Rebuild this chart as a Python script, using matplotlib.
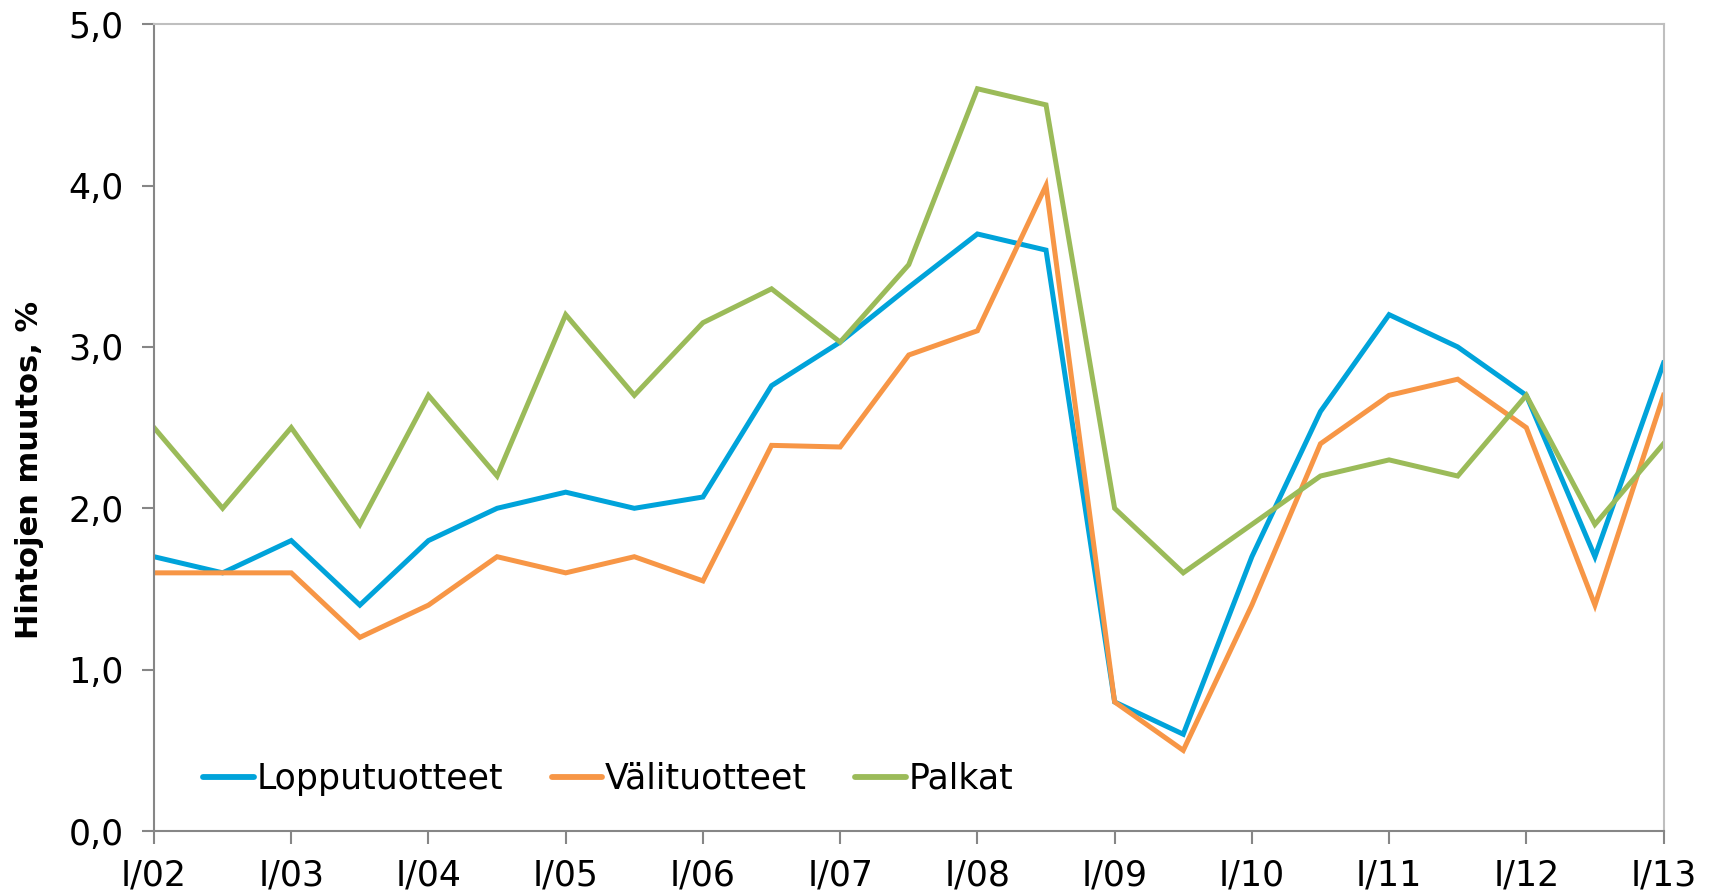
import numpy as np
import matplotlib
matplotlib.use("Agg")
import matplotlib.pyplot as plt

years = ["I/02", "I/03", "I/04", "I/05", "I/06", "I/07", "I/08",
         "I/09", "I/10", "I/11", "I/12", "I/13"]

lopputuotteet = [1.7, 1.6, 1.8, 1.4, 1.8, 2.0, 2.1, 2.0, 2.07, 2.76, 3.03, 3.37,
                 3.7, 3.6, 0.8, 0.6, 1.7, 2.6, 3.2, 3.0, 2.7, 1.7, 2.9]
valituotteet = [1.6, 1.6, 1.6, 1.2, 1.4, 1.7, 1.6, 1.7, 1.55, 2.39, 2.38, 2.95,
                3.1, 4.0, 0.8, 0.5, 1.4, 2.4, 2.7, 2.8, 2.5, 1.4, 2.7]
palkat = [2.5, 2.0, 2.5, 1.9, 2.7, 2.2, 3.2, 2.7, 3.15, 3.36, 3.03, 3.51,
          4.6, 4.5, 2.0, 1.6, 1.9, 2.2, 2.3, 2.2, 2.7, 1.9, 2.4]

series_names = ["Lopputuotteet", "Välituotteet", "Palkat"]
colors = ["#00A3DA", "#F79646", "#9BBB59"]

plt.rcParams['font.family'] = ['DejaVu Sans']

fig = plt.figure(figsize=(17.15, 8.96), dpi=100)
ax = fig.add_axes([0.0898, 0.0725, 0.970 - 0.0898, 0.973 - 0.0725])

x = np.arange(len(lopputuotteet))
for vals, name, c in zip([lopputuotteet, valituotteet, palkat], series_names, colors):
    ax.plot(x, vals, color=c, lw=3.6, label=name, solid_joinstyle='miter')

ax.set_xlim(0, len(x) - 1)
ax.set_ylim(0, 5)
ax.set_xticks(np.arange(0, len(x), 2))
ax.set_xticklabels(years)
ax.set_yticks(np.arange(0, 5.01, 1.0))
ax.set_yticklabels([f"{v:.1f}".replace(".", ",") for v in np.arange(0, 5.01, 1.0)])

for s in ["left", "bottom"]:
    ax.spines[s].set_color("#868686")
    ax.spines[s].set_linewidth(1.5)
for s in ["top", "right"]:
    ax.spines[s].set_color("#BFBFBF")
    ax.spines[s].set_linewidth(1.5)

ax.tick_params(axis='y', direction='out', length=9, width=1.5, color="#868686",
               labelsize=25, pad=13)
ax.tick_params(axis='x', direction='out', length=9, width=1.5, color="#868686",
               labelsize=25, pad=11)

ax.set_ylabel("Hintojen muutos, %", fontsize=22, fontweight='bold')
ax.yaxis.set_label_coords(-0.073, 0.447)

leg = ax.legend(loc='lower left', bbox_to_anchor=(0.012, 0.005), ncol=3, frameon=False,
                fontsize=25, handlelength=1.45, handletextpad=0.08, columnspacing=1.4)
for line in leg.get_lines():
    line.set_linewidth(4.2)
    line.set_solid_capstyle('round')

fig.savefig("out.png", dpi=100)
